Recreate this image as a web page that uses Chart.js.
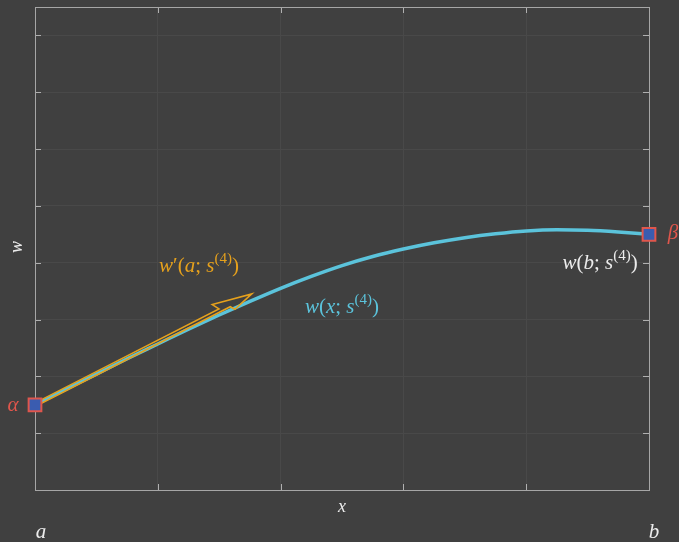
<!DOCTYPE html>
<html>
<head>
<meta charset="utf-8">
<script src="https://cdn.jsdelivr.net/npm/chart.js@4.4.1/dist/chart.umd.min.js"></script>
<style>
  html, body { margin: 0; padding: 0; background: #404040; }
  #wrap { width: 679px; height: 542px; }
</style>
</head>
<body>
<div id="wrap"><canvas id="shoot"></canvas></div>
<script>
// shooting solution w(x; s^(4)) on [a, b]
const xs = [0, 0.05, 0.10, 0.15, 0.20, 0.25, 0.30, 0.35, 0.40, 0.45, 0.50,
            0.55, 0.60, 0.65, 0.70, 0.75, 0.80, 0.85, 0.90, 0.95, 1.00];
const ws = [1.50, 1.77, 2.04, 2.31, 2.57, 2.83, 3.08, 3.32, 3.55, 3.76, 3.95,
            4.11, 4.24, 4.35, 4.44, 4.51, 4.56, 4.58, 4.57, 4.54, 4.50];

// boundary values alpha, beta
const endX = [0, 1];
const endW = [1.5, 4.5];

// initial slope arrow w'(a; s^(4))
const arrowFrom = [0, 1.5];
const arrowTo = [0.353, 3.45];

const xTicks = [0, 0.2, 0.4, 0.6, 0.8, 1];
const yTicks = [0, 1, 2, 3, 4, 5, 6, 7, 8];

const CYAN = '#5bc3db';
const ORANGE = '#e6a11c';
const RED = '#e0564c';
const TXT = '#ececec';
const SERIF = '"Liberation Serif", "DejaVu Serif", serif';

// draw a math-ish label: pieces are [text, kind] with kind i (italic), r (roman), s (superscript)
function mathText(ctx, pieces, cx, cy, color, size) {
    const fontFor = k => k === 'i' ? `italic ${size}px ${SERIF}` :
                         k === 's' ? `${Math.round(size * 0.72)}px ${SERIF}` :
                         `${size}px ${SERIF}`;
    let total = 0;
    pieces.forEach(p => { ctx.font = fontFor(p[1]); total += ctx.measureText(p[0]).width; });
    let x = cx - total / 2;
    ctx.fillStyle = color;
    ctx.textAlign = 'left';
    ctx.textBaseline = 'middle';
    pieces.forEach(p => {
        ctx.font = fontFor(p[1]);
        ctx.fillText(p[0], x, p[1] === 's' ? cy - size * 0.32 : cy);
        x += ctx.measureText(p[0]).width;
    });
}

const decor = {
    id: 'decor',
    beforeDatasetsDraw(chart) {
        const { ctx, chartArea: a, scales } = chart;
        ctx.save();
        ctx.strokeStyle = '#b0b0b0';
        ctx.lineWidth = 1;
        ctx.beginPath();
        xTicks.forEach(v => {
            const px = Math.round(scales.x.getPixelForValue(v)) + 0.5;
            ctx.moveTo(px, a.bottom); ctx.lineTo(px, a.bottom - 6);
            ctx.moveTo(px, a.top); ctx.lineTo(px, a.top + 6);
        });
        yTicks.forEach(v => {
            const py = Math.round(scales.y.getPixelForValue(v)) + 0.5;
            ctx.moveTo(a.left, py); ctx.lineTo(a.left + 6, py);
            ctx.moveTo(a.right, py); ctx.lineTo(a.right - 6, py);
        });
        ctx.stroke();
        ctx.strokeStyle = '#a6a6a6';
        ctx.strokeRect(Math.round(a.left) + 0.5, Math.round(a.top) + 0.5,
                       Math.round(a.right - a.left), Math.round(a.bottom - a.top));
        ctx.restore();
    },
    afterDatasetDraw(chart, args) {
        if (args.index !== 1) return;
        const { ctx, scales } = chart;
        const x0 = scales.x.getPixelForValue(arrowFrom[0]);
        const y0 = scales.y.getPixelForValue(arrowFrom[1]);
        const x1 = scales.x.getPixelForValue(arrowTo[0]);
        const y1 = scales.y.getPixelForValue(arrowTo[1]);
        const L = Math.hypot(x1 - x0, y1 - y0);
        const ux = (x1 - x0) / L, uy = (y1 - y0) / L;
        const nx = uy, ny = -ux; // left-hand normal (upwards)
        const pt = (s, p) => [x0 + ux * s + nx * p, y0 + uy * s + ny * p];
        const shape = [
            [0, 1.6], [L - 36, 1.6], [L - 40, 8.5], [L, 0],
            [L - 22, -6], [L - 25, -1.6], [0, -1.6]
        ];
        ctx.save();
        ctx.strokeStyle = ORANGE;
        ctx.lineWidth = 1.6;
        ctx.lineJoin = 'miter';
        ctx.beginPath();
        shape.forEach((s, i) => {
            const [px, py] = pt(s[0], s[1]);
            if (i === 0) ctx.moveTo(px, py); else ctx.lineTo(px, py);
        });
        ctx.closePath();
        ctx.stroke();
        ctx.restore();
    },
    afterDraw(chart) {
        const { ctx } = chart;
        ctx.save();
        mathText(ctx, [['w', 'i'], ['\u2032', 'r'], ['(', 'r'], ['a', 'i'], ['; ', 'r'],
                       ['s', 'i'], ['(4)', 's'], [')', 'r']], 199, 266, ORANGE, 21);
        mathText(ctx, [['w', 'i'], ['(', 'r'], ['x', 'i'], ['; ', 'r'],
                       ['s', 'i'], ['(4)', 's'], [')', 'r']], 342, 307, CYAN, 21);
        mathText(ctx, [['w', 'i'], ['(', 'r'], ['b', 'i'], ['; ', 'r'],
                       ['s', 'i'], ['(4)', 's'], [')', 'r']], 600, 263, TXT, 21);
        mathText(ctx, [['\u03b1', 'i']], 13, 405, RED, 21);
        mathText(ctx, [['\u03b2', 'i']], 673, 233, RED, 21);
        mathText(ctx, [['x', 'i']], 342, 507, TXT, 18);
        mathText(ctx, [['a', 'i']], 41, 532, TXT, 21);
        mathText(ctx, [['b', 'i']], 654, 532, TXT, 21);
        ctx.translate(17, 247);
        ctx.rotate(-Math.PI / 2);
        mathText(ctx, [['w', 'i']], 0, 0, TXT, 18);
        ctx.restore();
    }
};

const pinTicks = list => scale => { scale.ticks = list.map(v => ({ value: v })); };

new Chart(document.getElementById('shoot'), {
    type: 'scatter',
    data: {
        datasets: [
            {
                label: 'boundary',
                data: endX.map((x, i) => ({ x: x, y: endW[i] })),
                pointStyle: 'rect',
                pointRadius: 9,
                backgroundColor: '#3a5cb0',
                borderColor: RED,
                borderWidth: 2,
                clip: false
            },
            {
                label: 'w(x; s4)',
                data: xs.map((x, i) => ({ x: x, y: ws[i] })),
                showLine: true,
                borderColor: CYAN,
                borderWidth: 3.5,
                pointRadius: 0,
                cubicInterpolationMode: 'monotone',
                clip: false
            }
        ]
    },
    options: {
        responsive: true,
        maintainAspectRatio: false,
        animation: false,
        devicePixelRatio: 1,
        layout: { autoPadding: false, padding: { left: 35, top: 7, right: 30, bottom: 52 } },
        plugins: { legend: { display: false }, tooltip: { enabled: false } },
        scales: {
            x: {
                type: 'linear', min: 0, max: 1,
                afterBuildTicks: pinTicks(xTicks),
                ticks: { display: false },
                grid: { color: '#494949', drawTicks: false },
                border: { display: false }
            },
            y: {
                type: 'linear', min: 0, max: 8.5,
                afterBuildTicks: pinTicks(yTicks),
                ticks: { display: false },
                grid: { color: '#494949', drawTicks: false },
                border: { display: false }
            }
        }
    },
    plugins: [decor]
});
</script>
</body>
</html>
